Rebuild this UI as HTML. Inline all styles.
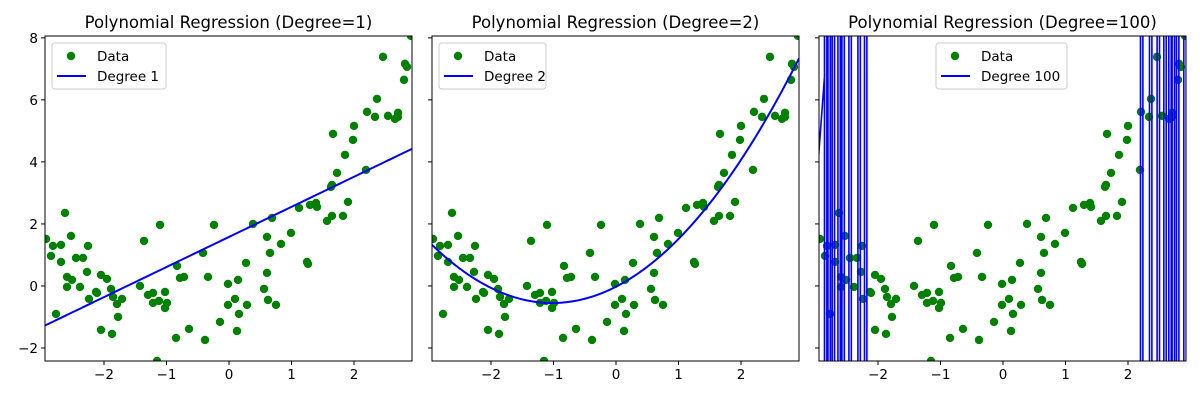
<!DOCTYPE html>
<html><head><meta charset="utf-8"><style>
body{margin:0;background:#fff}
svg text{font-family:"DejaVu Sans","Liberation Sans",sans-serif;fill:#000}
</style></head><body>
<svg id="fig" width="1200" height="400" xmlns="http://www.w3.org/2000/svg"></svg>
<script>
const dataX=[-2.928,-2.624,-2.816,-2.688,-2.528,-2.256,-2.848,-2.688,-2.448,-2.336,-2.272,-2.592,-2.512,-2.592,-2.384,-2.048,-1.952,-1.888,-2.128,-2.112,-2.240,-1.856,-1.712,-1.792,-1.776,-2.768,-2.048,-1.872,-1.360,-1.104,-1.424,-1.296,-1.216,-1.024,-1.216,-1.120,-0.992,-1.024,-1.152,-0.848,-0.640,-0.832,-0.784,-0.720,-0.416,-0.336,-0.240,-0.384,-0.144,-0.016,-0.016,0.144,0.096,0.160,0.128,0.288,0.272,0.384,0.560,0.608,0.624,0.752,0.608,0.656,0.688,0.832,0.992,1.120,1.248,1.264,1.296,1.392,1.408,1.568,1.648,1.824,1.904,1.632,1.648,1.728,2.192,1.856,1.984,2.000,1.664,2.208,2.336,2.368,2.544,2.656,2.704,2.704,2.464,2.800,2.816,2.848,2.912];
const dataY=[1.516,2.355,1.290,1.323,1.613,1.290,0.968,0.774,0.903,0.903,0.452,0.290,0.194,-0.032,-0.032,0.355,0.226,-0.097,-0.194,-0.226,-0.419,-0.355,-0.419,-0.581,-1.000,-0.903,-1.419,-1.548,1.452,1.968,0.000,-0.290,-0.226,-0.194,-0.548,-0.484,-0.548,-0.710,-2.42,-1.677,-1.387,0.645,0.258,0.290,1.065,0.290,1.968,-1.742,-1.161,0.065,-0.613,0.194,-0.419,-0.903,-1.452,-0.613,0.742,2.000,-0.097,0.419,-0.452,-0.613,1.581,1.065,2.194,1.355,1.710,2.516,0.774,0.710,2.613,2.677,2.548,2.097,2.258,2.258,2.710,3.194,3.258,3.645,3.742,4.226,4.710,5.161,4.903,5.613,5.452,6.032,5.484,5.387,5.581,5.452,7.387,6.645,7.161,7.065,8.065];
const xTicks=[-2,-1,0,1,2];
const yTicks=[-2,0,2,4,6,8];
const titles=["Polynomial Regression (Degree=1)","Polynomial Regression (Degree=2)","Polynomial Regression (Degree=100)"];
const legendLabels=["Degree 1","Degree 2","Degree 100"];
const deg100Spike=[[-2.95,4.2],[-2.853,6.84]];
const deg100Crossings=[-2.837,-2.782,-2.714,-2.622,-2.558,-2.446,-2.302,-2.197,2.219,2.363,2.485,2.592,2.672,2.725,2.795,2.912];

const NS="http://www.w3.org/2000/svg";
const svg=document.getElementById('fig');
function mk(tag,attrs,parent){const e=document.createElementNS(NS,tag);for(const k in attrs)e.setAttribute(k,attrs[k]);(parent||svg).appendChild(e);return e;}
const XMIN=-2.944,XMAX=2.928,YMIN=-2.42,YMAX=8.06;
const axTop=36,axBot=361,axW=367,lefts=[45,432,819];

function fit(deg){const n=deg+1;const A=[];for(let i=0;i<n;i++){A.push(new Array(n+1).fill(0));}
 for(let k=0;k<dataX.length;k++){for(let i=0;i<n;i++){for(let j=0;j<n;j++)A[i][j]+=Math.pow(dataX[k],i+j);A[i][n]+=Math.pow(dataX[k],i)*dataY[k];}}
 for(let i=0;i<n;i++){let p=i;for(let r=i+1;r<n;r++)if(Math.abs(A[r][i])>Math.abs(A[p][i]))p=r;[A[i],A[p]]=[A[p],A[i]];
  for(let r=0;r<n;r++){if(r===i)continue;const f=A[r][i]/A[i][i];for(let c=i;c<=n;c++)A[r][c]-=f*A[i][c];}}
 return A.map((r,i)=>r[n]/r[i]);}
const coefs=[fit(1),fit(2)];

lefts.forEach((L,pi)=>{
 const sx=v=>L+(v-XMIN)/(XMAX-XMIN)*axW, sy=v=>axBot-(v-YMIN)/(YMAX-YMIN)*(axBot-axTop);
 const g=mk('g',{});
 
 
 const clipId='clip'+pi;
 const cp=mk('clipPath',{id:clipId},g);mk('rect',{x:L,y:axTop,width:axW,height:axBot-axTop},cp);
 const t=mk('text',{x:L+axW/2,y:28,'text-anchor':'middle','font-size':'16.5'},g);t.textContent=titles[pi];
 
 
 const plot=mk('g',{'clip-path':'url(#'+clipId+')'},g);
 dataX.forEach((x,i)=>{const c=mk('circle',{cx:sx(x),cy:sy(dataY[i]),r:4.2,fill:'#008000'},plot);
  
  });
 let d='';
 if(pi<2){const cf=coefs[pi];for(let k=0;k<=200;k++){const x=XMIN+(XMAX-XMIN)*k/200;let y=0;cf.forEach((c,j)=>y+=c*Math.pow(x,j));d+=(k?'L':'M')+sx(x).toFixed(2)+','+sy(y).toFixed(2);}}
 else{d='M'+sx(deg100Spike[0][0])+','+sy(deg100Spike[0][1])+'L'+sx(deg100Spike[1][0])+','+sy(deg100Spike[1][1]);
  deg100Crossings.forEach(x=>{d+='M'+(sx(x)-1.2)+','+(axTop-5)+'L'+(sx(x)-1.2)+','+(axBot+5)+'M'+(sx(x)+1.2)+','+(axTop-5)+'L'+(sx(x)+1.2)+','+(axBot+5);});}
 const p=mk('path',{d:d,fill:'none',stroke:'#0000ff','stroke-width':pi<2?2:1.6},plot);
 
 
 mk('rect',{x:L,y:axTop,width:axW,height:axBot-axTop,fill:'none',stroke:'#000','stroke-width':1},g);
 xTicks.forEach(v=>{const x=sx(v);mk('line',{x1:x,x2:x,y1:axBot,y2:axBot+4,stroke:'#000'},g);
  const tl=mk('text',{x:x,y:axBot+18,'text-anchor':'middle','font-size':'13.5'},g);tl.textContent=v<0?'\u2212'+(-v):v;
  
  });
 yTicks.forEach(v=>{const y=sy(v);mk('line',{x1:L-4,x2:L,y1:y,y2:y,stroke:'#000'},g);
  if(pi===0){const tl=mk('text',{x:L-7,y:y+5,'text-anchor':'end','font-size':'13.5'},g);tl.textContent=v<0?'\u2212'+(-v):v;
  
  }});
 const lx=pi<2?L+7:936, lw=pi===0?114:(pi===1?107:131);
 const lg=mk('g',{},g);
 
 
 mk('rect',{x:lx,y:43,width:lw,height:46,rx:3,fill:'#fff','fill-opacity':0.8,stroke:'#ccc'},lg);
 mk('circle',{cx:lx+19,cy:56,r:4.2,fill:'#008000'},lg);
 mk('line',{x1:lx+5,x2:lx+34,y1:76,y2:76,stroke:'#0000ff','stroke-width':2},lg);
 const t1=mk('text',{x:lx+45,y:61,'font-size':'13.5'},lg);t1.textContent='Data';
 const t2=mk('text',{x:lx+45,y:81,'font-size':'13.5'},lg);t2.textContent=legendLabels[pi];
});
</script>
</body></html>
